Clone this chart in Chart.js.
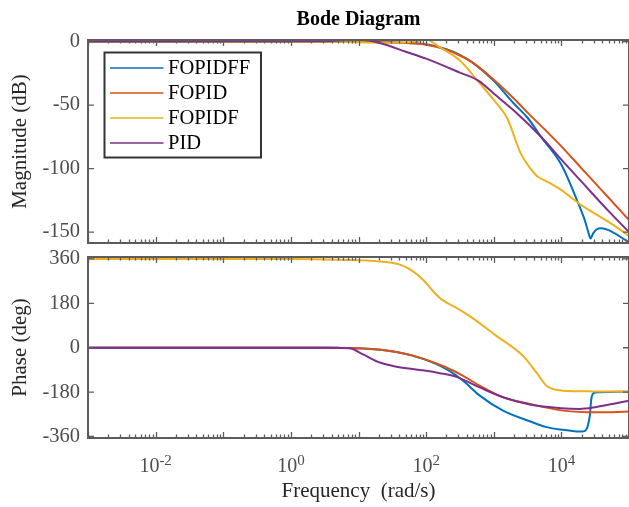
<!DOCTYPE html>
<html>
<head>
<meta charset="utf-8">
<script src="https://cdn.jsdelivr.net/npm/chart.js@4.4.1/dist/chart.umd.min.js"></script>
<style>
  html, body { margin: 0; padding: 0; background: #fff; }
  #wrap { position: relative; width: 629px; height: 507px; overflow: hidden; }
  .pane { position: absolute; left: 0; width: 629px; }
  #magPane { top: 0; height: 250px; }
  #phasePane { top: 250px; height: 257px; }
</style>
</head>
<body>
<div id="wrap">
  <div class="pane" id="magPane"><canvas id="magChart"></canvas></div>
  <div class="pane" id="phasePane"><canvas id="phaseChart"></canvas></div>
</div>
<script>
"use strict";

const seriesNames = ["FOPIDFF", "FOPID", "FOPIDF", "PID"];
const seriesColors = ["#0072BD", "#D95319", "#EDB120", "#7E2F8E"];

const freqMin = 1e-3;
const freqMax = 1e5;
const decadeLabels = [-2, 0, 2, 4];
const magTicks = [0, -50, -100, -150];
const phaseTicks = [360, 180, 0, -180, -360];

// magnitude: frequency (rad/s) and gain (dB) per controller
const fopidffMagW = [0.001, 3, 10, 30, 60, 100, 200, 316, 500, 1000, 2000, 3162, 5000, 10000, 18600, 22000, 25000, 27000, 29500, 33000, 39000, 50000, 100000];
const fopidffMag = [0, 0, -0.1, -0.6, -1.3, -2.2, -6, -10.5, -17, -31, -49, -60, -75, -97, -130, -140, -150, -155, -151, -148, -147, -148.5, -158];

const fopidMagW = [0.001, 10, 30, 100, 200, 316, 500, 1000, 2000, 3162, 6000, 10000, 20000, 31620, 50000, 100000];
const fopidMag = [0, -0.1, -0.8, -2.5, -6.5, -11, -17, -30, -45, -56, -70.5, -82.5, -100, -111.5, -123, -140.5];

const fopidfMagW = [0.001, 3, 10, 30, 60, 85, 100, 120, 160, 316, 600, 1000, 1600, 2500, 3500, 4500, 6000, 10000, 20000, 50000, 100000];
const fopidfMag = [0, -0.2, -0.6, -0.9, -0.4, 1, 1.8, 0, -4.5, -15, -32, -46, -61, -88, -100, -106.5, -110, -117, -129, -142, -153];

const pidMagW = [0.001, 3, 8, 12, 20, 50, 100, 316, 600, 1000, 2000, 5000, 10000, 20000, 50000, 100000];
const pidMag = [0, 0.2, 1.2, 1.2, -1, -8, -13.5, -24.5, -31, -41, -54.5, -75, -93, -110.5, -133.5, -150];

// phase: frequency (rad/s) and phase (deg) per controller
const fopidffPhW = [0.001, 3, 11.7, 36.5, 90, 200, 352, 621, 1372, 3404, 6030, 10700, 18600, 22000, 24500, 26500, 27500, 29600, 35000, 100000];
const fopidffPh = [0, -0.5, -3, -17.5, -45, -87, -134, -194, -255, -298, -322, -333, -340, -338, -318, -270, -215, -185, -180, -178];

const fopidPhW = [0.001, 3, 11.7, 36.5, 90, 200, 352, 621, 1372, 3404, 10700, 33000, 100000];
const fopidPh = [0, -0.5, -3, -17.5, -44, -80, -114, -154, -201, -228, -255, -262, -259];

const fopidfPhW = [0.001, 1, 5, 20.7, 41, 64, 90, 127, 169, 281, 442, 1096, 2710, 4266, 6030, 10500, 30000, 100000];
const fopidfPh = [360, 360, 357, 350, 337, 310, 276, 229, 196, 162, 128, 48, -33, -100, -154, -174, -177, -178];

const pidPhW = [0.001, 2, 5, 7.4, 11.7, 20.7, 36.5, 80.5, 159, 281, 621, 1372, 3404, 10000, 18600, 33000, 57000, 100000];
const pidPh = [0, 0, -0.5, -2, -27, -60, -77, -90, -103, -118, -161, -201, -230, -245, -248, -240, -228, -215];

const FONT = "'Liberation Serif', 'Times New Roman', serif";
const tickColor = "#4d4d4d";
const frameColor = "#5c5c5c";
const labelColor = "#262626";

Chart.defaults.font.family = FONT;

function toPoints(w, v) {
    return w.map((f, i) => ({ x: f, y: v[i] }));
}

function makeDatasets(ws, vs) {
    return seriesNames.map((name, i) => ({
        label: name,
        data: toPoints(ws[i], vs[i]),
        borderColor: seriesColors[i],
        backgroundColor: seriesColors[i],
        borderWidth: 2,
        pointRadius: 0,
        fill: false,
        cubicInterpolationMode: 'monotone',
        order: seriesNames.length - i
    }));
}

// box frame with inward log/linear tick marks on all four sides
const frameTicks = {
    id: 'frameTicks',
    afterDatasetsDraw(chart) {
        const { ctx, chartArea: a, scales: { x, y } } = chart;
        ctx.save();
        ctx.strokeStyle = frameColor;
        ctx.lineWidth = 1.3;
        ctx.beginPath();
        for (let e = -3; e <= 5; e++) {
            for (let m = 1; m <= 9; m++) {
                const v = m * Math.pow(10, e);
                if (v > freqMax * 1.0001) break;
                const px = Math.round(x.getPixelForValue(v)) + 0.5;
                const len = m === 1 ? 6 : 3.5;
                ctx.moveTo(px, a.bottom); ctx.lineTo(px, a.bottom - len);
                ctx.moveTo(px, a.top); ctx.lineTo(px, a.top + len);
            }
        }
        y.ticks.forEach(t => {
            const py = y.getPixelForValue(t.value);
            ctx.moveTo(a.left, py); ctx.lineTo(a.left + 6, py);
            ctx.moveTo(a.right, py); ctx.lineTo(a.right - 6, py);
        });
        ctx.stroke();
        ctx.lineWidth = 2;
        ctx.strokeRect(a.left, a.top, a.right - a.left, a.bottom - a.top);
        ctx.restore();
    }
};

// boxed legend in the upper-left corner of the magnitude axes
const boxLegend = {
    id: 'boxLegend',
    afterDraw(chart) {
        const { ctx, chartArea: a } = chart;
        const left = a.left + 16.5, top = a.top + 12.5, w = 156.5, h = 105;
        ctx.save();
        ctx.fillStyle = '#fff';
        ctx.fillRect(left, top, w, h);
        ctx.strokeStyle = '#333';
        ctx.lineWidth = 2;
        ctx.strokeRect(left, top, w, h);
        ctx.font = `20.5px ${FONT}`;
        ctx.textBaseline = 'middle';
        ctx.fillStyle = '#000';
        chart.data.datasets.forEach((ds, i) => {
            const cy = top + 15.5 + i * 25;
            ctx.strokeStyle = ds.borderColor;
            ctx.lineWidth = 1.3;
            ctx.beginPath();
            ctx.moveTo(left + 5.5, cy);
            ctx.lineTo(left + 59, cy);
            ctx.stroke();
            ctx.fillText(ds.label, left + 63.5, cy + 1);
        });
        ctx.restore();
    }
};

// 10^n labels under the phase axes
const decadeTickLabels = {
    id: 'decadeTickLabels',
    afterDraw(chart) {
        const { ctx, chartArea: a, scales: { x } } = chart;
        ctx.save();
        ctx.fillStyle = tickColor;
        ctx.textBaseline = 'alphabetic';
        ctx.textAlign = 'left';
        decadeLabels.forEach(e => {
            const px = x.getPixelForValue(Math.pow(10, e));
            const exp = String(e);
            ctx.font = `20px ${FONT}`;
            const bw = ctx.measureText('10').width;
            ctx.font = `15px ${FONT}`;
            const ew = ctx.measureText(exp).width;
            const x0 = px - (bw + ew) / 2;
            ctx.font = `20px ${FONT}`;
            ctx.fillText('10', x0, a.bottom + 34);
            ctx.font = `15px ${FONT}`;
            ctx.fillText(exp, x0 + bw, a.bottom + 26.5);
        });
        ctx.restore();
    }
};

function noOverhang(s) {
    s.paddingTop = 0;
    s.paddingBottom = 0;
    s.paddingLeft = 0;
    s.paddingRight = 0;
}

function xScale(height, title) {
    return {
        type: 'logarithmic',
        min: freqMin,
        max: freqMax,
        grid: { display: false, drawTicks: false },
        border: { display: false },
        ticks: { display: false },
        title: title ? {
            display: true, text: title, color: labelColor,
            font: { size: 21 }, padding: { bottom: 2.5 }
        } : { display: false },
        afterFit: s => { s.height = height; noOverhang(s); }
    };
}

function yScale(min, max, tickVals, title) {
    return {
        min: min,
        max: max,
        afterBuildTicks: s => { s.ticks = tickVals.map(v => ({ value: v })); },
        grid: { display: false, drawTicks: false },
        border: { display: false },
        ticks: { color: tickColor, font: { size: 20.5 }, padding: 8 },
        title: { display: true, text: title, color: labelColor, font: { size: 21 }, padding: { top: 7.5 } },
        afterFit: s => { s.width = 88; noOverhang(s); }
    };
}

const baseOptions = {
    responsive: true,
    maintainAspectRatio: false,
    animation: false,
    events: []
};

new Chart(document.getElementById('magChart'), {
    type: 'line',
    data: { datasets: makeDatasets([fopidffMagW, fopidMagW, fopidfMagW, pidMagW], [fopidffMag, fopidMag, fopidfMag, pidMag]) },
    options: Object.assign({}, baseOptions, {
        layout: { padding: { top: 0, right: 0, bottom: 0, left: 0 } },
        plugins: {
            legend: { display: false },
            tooltip: { enabled: false },
            title: {
                display: true, text: 'Bode Diagram', fullSize: false, color: '#000',
                font: { size: 20, weight: 'bold' }, padding: { top: 8, bottom: 8 }
            }
        },
        scales: {
            x: xScale(7),
            y: yScale(-158.6, 1.2, magTicks, 'Magnitude (dB)')
        }
    }),
    plugins: [frameTicks, boxLegend]
});

new Chart(document.getElementById('phaseChart'), {
    type: 'line',
    data: { datasets: makeDatasets([fopidffPhW, fopidPhW, fopidfPhW, pidPhW], [fopidffPh, fopidPh, fopidfPh, pidPh]) },
    options: Object.assign({}, baseOptions, {
        layout: { padding: { top: 7, right: 0, bottom: 0, left: 0 } },
        plugins: {
            legend: { display: false },
            tooltip: { enabled: false },
            title: { display: false }
        },
        scales: {
            x: xScale(69, 'Frequency  (rad/s)'),
            y: yScale(-366, 368, phaseTicks, 'Phase (deg)')
        }
    }),
    plugins: [frameTicks, decadeTickLabels]
});
</script>
</body>
</html>
